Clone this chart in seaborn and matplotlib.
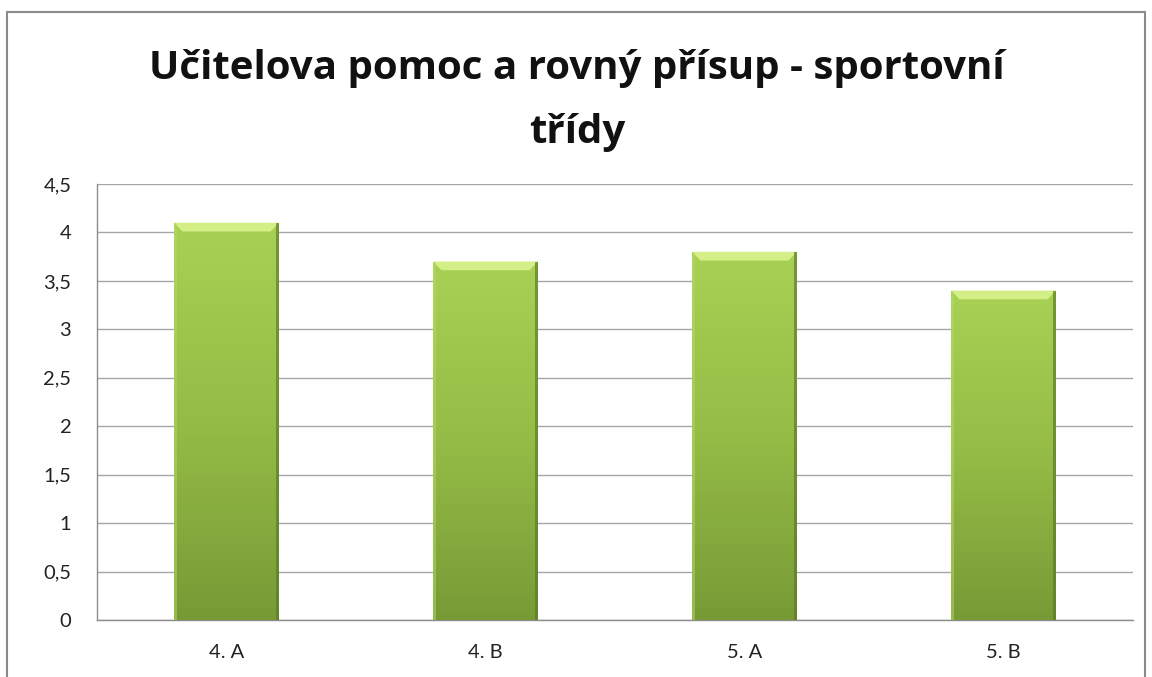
import numpy as np
import pandas as pd
import seaborn as sns
import matplotlib.pyplot as plt
from matplotlib.colors import LinearSegmentedColormap
from matplotlib.patches import Rectangle, Polygon

# data
classes = ["4. A", "4. B", "5. A", "5. B"]
scores = [4.1, 3.7, 3.8, 3.4]
y_ticks = [0, 0.5, 1, 1.5, 2, 2.5, 3, 3.5, 4, 4.5]

title_l1 = "Učitelova pomoc a rovný přísup - sportovní"
title_l2 = "třídy"

sns.set_style("white")
plt.rcParams['font.family'] = ['Lato', 'DejaVu Sans']

df = pd.DataFrame({"trida": classes, "hodnota": scores})

fig = plt.figure(figsize=(11.52, 6.77), dpi=100)
ax = fig.add_axes([97 / 1152, 1 - 620 / 677, (1133 - 97) / 1152, (620 - 184) / 677])

sns.barplot(data=df, x="trida", y="hodnota", color="#9bc446", width=0.405,
            ax=ax, zorder=3, edgecolor="none")

# green gradient fill, clipped to each bar
cmap = LinearSegmentedColormap.from_list("grn", ["#789a36", "#95bc46", "#a8d154"])
grad = np.linspace(0, 1, 256).reshape(-1, 1)
bev = 0.09
for p in ax.patches:
    x0, w, h = p.get_x(), p.get_width(), p.get_height()
    im = ax.imshow(grad, cmap=cmap, aspect="auto", origin="lower",
                   extent=[x0, x0 + w, 0, h], zorder=4)
    im.set_clip_path(p)
    # bevel: light top trapezoid, darker right edge, lighter left edge
    dx = w * 0.08
    ax.add_patch(Polygon([(x0, h), (x0 + w, h), (x0 + w - dx, h - bev), (x0 + dx, h - bev)],
                         closed=True, color="#d4ee88", zorder=5, lw=0))
    ax.add_patch(Rectangle((x0 + w * 0.97, 0), w * 0.03, h, color="#5a7726",
                           alpha=0.65, zorder=5, lw=0))
    ax.add_patch(Rectangle((x0, 0), w * 0.025, h, color="#b4d966",
                           alpha=0.5, zorder=5, lw=0))

ax.set_xlim(-0.5, len(classes) - 0.5)
ax.set_ylim(0, 4.5)
ax.set_yticks(y_ticks)
ax.set_yticklabels([f"{t:g}".replace(".", ",") for t in y_ticks], fontsize=14.5, color="#222222")
ax.set_xticks(range(len(classes)))
ax.set_xticklabels(classes, fontsize=14.5, color="#222222")
ax.set_xticks(np.arange(-0.5, len(classes), 1), minor=True)
ax.tick_params(axis="x", which="major", length=0, pad=17)
ax.tick_params(axis="x", which="minor", length=6.5, color="#8c8c8c", direction="out")
ax.tick_params(axis="y", length=6.5, color="#8c8c8c", direction="out", pad=12)
ax.set_xlabel("")
ax.set_ylabel("")

ax.yaxis.grid(True, color="#a6a6a6", lw=1, zorder=0)
ax.set_axisbelow(True)
for s in ["top", "right"]:
    ax.spines[s].set_visible(False)
for s in ["left", "bottom"]:
    ax.spines[s].set_color("#8c8c8c")
    ax.spines[s].set_linewidth(1)

title_font = ['Open Sans', 'DejaVu Sans']
fig.text(577 / 1152, 1 - 79 / 677, title_l1, ha="center", va="baseline", fontsize=29,
         fontweight="bold", color="#111111", family=title_font)
fig.text(577 / 1152, 1 - 143 / 677, title_l2, ha="center", va="baseline", fontsize=29,
         fontweight="bold", color="#111111", family=title_font)

# outer chart border
fig.add_artist(Rectangle((7 / 1152, -0.05), (1145 - 7) / 1152, 1 - 12 / 677 + 0.05,
                         fill=False, edgecolor="#8a8a8a", lw=1.5, transform=fig.transFigure))

fig.savefig("out.png", dpi=100, facecolor="white")
